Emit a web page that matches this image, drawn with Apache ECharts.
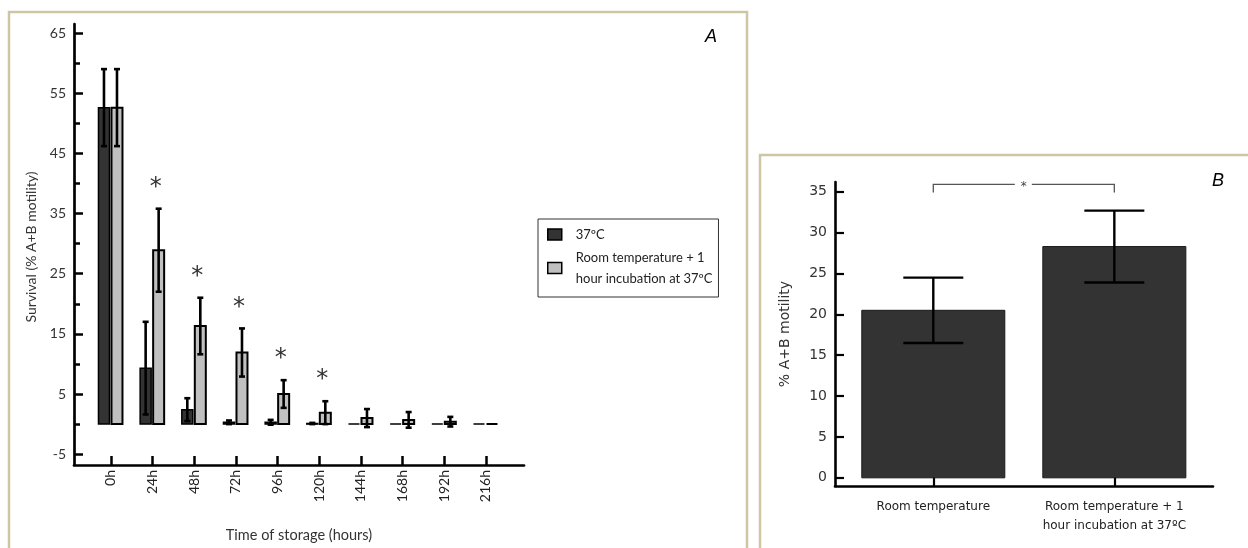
<!DOCTYPE html>
<html>
<head>
<meta charset="utf-8">
<script src="https://cdn.jsdelivr.net/npm/echarts@6/dist/echarts.min.js"></script>
<style>
html,body{margin:0;padding:0;background:#fff;}
#chart{width:1248px;height:548px;}
</style>
</head>
<body>
<div id="chart"></div>
<script>
// ---------- Panel A data ----------
const hours = [0, 24, 48, 72, 96, 120, 144, 168, 192, 216];
const hourLabels = ['0h', '24h', '48h', '72h', '96h', '120h', '144h', '168h', '192h', '216h'];
const mean37 = [52.6, 9.3, 2.4, 0.3, 0.3, 0.1, 0, 0, 0, 0];
const sd37 = [6.4, 7.7, 1.9, 0.3, 0.4, 0.1, 0, 0, 0, 0];
const meanRT = [52.6, 28.9, 16.3, 11.9, 5.0, 1.9, 1.0, 0.7, 0.4, 0];
const sdRT = [6.4, 6.9, 4.7, 4.0, 2.3, 1.9, 1.5, 1.3, 0.8, 0];
const sigA = [0, 1, 1, 1, 1, 1, 0, 0, 0, 0];
const yTicksA = [-5, 5, 15, 25, 35, 45, 55, 65];
const yMinorA = [0, 10, 20, 30, 40, 50, 60];
const seriesNamesA = ['37ºC', 'Room temperature + 1\nhour incubation at 37ºC'];

// ---------- Panel B data ----------
const categoriesB = ['Room temperature', 'Room temperature + 1\nhour incubation at 37ºC'];
const meanB = [20.5, 28.3];
const sdB = [4.0, 4.4];
const yTicksB = [0, 5, 10, 15, 20, 25, 30, 35];
const sigB = [0, 1, 35.9]; // bracket from category 0 to 1 at this level

const chart = echarts.init(document.getElementById('chart'), null, {renderer: 'canvas'});

const fontA = 'Lato, "Open Sans", sans-serif';
const fontB = '"DejaVu Sans", Verdana, sans-serif';
const tan = '#cdc6a5';

function barRenderer(offset, fill, strokeW) {
  return function (params, api) {
    const x = api.value(0), m = api.value(1), s = api.value(2);
    const base = api.coord([x, 0]);
    const top = api.coord([x, m]);
    const cx = base[0] + offset;
    const w = 11;
    const children = [{
      type: 'rect',
      shape: {x: cx - w / 2, y: top[1], width: w, height: base[1] - top[1]},
      style: {fill: fill, stroke: '#000', lineWidth: strokeW}
    }];
    if (s > 0) {
      const hi = api.coord([x, m + s])[1];
      const lo = api.coord([x, m - s])[1];
      children.push(
        {type: 'line', shape: {x1: cx, y1: hi, x2: cx, y2: lo}, style: {stroke: '#000', lineWidth: 2.6}},
        {type: 'line', shape: {x1: cx - 3, y1: hi, x2: cx + 3, y2: hi}, style: {stroke: '#000', lineWidth: 2.6}},
        {type: 'line', shape: {x1: cx - 3, y1: lo, x2: cx + 3, y2: lo}, style: {stroke: '#000', lineWidth: 2.6}}
      );
    }
    return {type: 'group', children: children};
  };
}

const data37 = hours.map((h, i) => [h, mean37[i], sd37[i]]);
const dataRT = hours.map((h, i) => [h, meanRT[i], sdRT[i]]);
const dataSigA = hours.map((h, i) => [h, meanRT[i] + sdRT[i], sigA[i]]).filter(d => d[2]);
const dataB = categoriesB.map((c, i) => [i, meanB[i], sdB[i]]);

const option = {
  backgroundColor: '#fff',
  animation: false,
  grid: [
    {left: 74, top: 24, width: 450, height: 441},
    {left: 835, top: 182, width: 378, height: 304}
  ],
  legend: {
    data: [
      {name: seriesNamesA[0], itemStyle: {color: '#333333', borderColor: '#000', borderWidth: 1.5}},
      {name: seriesNamesA[1], itemStyle: {color: '#c0c0c0', borderColor: '#000', borderWidth: 1.5}}
    ],
    orient: 'vertical',
    left: 538,
    top: 219,
    padding: [5, 6, 8, 9],
    itemGap: 2,
    itemWidth: 14,
    itemHeight: 11,
    icon: 'rect',
    borderColor: '#333',
    borderWidth: 1,
    textStyle: {fontFamily: fontA, fontSize: 13, color: '#222', lineHeight: 21, padding: [0, 0, 0, 9]}
  },
  xAxis: [
    {
      gridIndex: 0, type: 'value', min: -21.3, max: 237.9,
      axisLine: {show: true, onZero: false, lineStyle: {color: '#000', width: 2.7}},
      axisTick: {show: true, inside: true, length: 9, customValues: hours, lineStyle: {color: '#000', width: 2.5}},
      axisLabel: {
        show: true, customValues: hours, rotate: 90, margin: 5,
        fontFamily: fontA, fontSize: 14, color: '#222',
        formatter: v => hourLabels[hours.indexOf(v)]
      },
      splitLine: {show: false}
    },
    {
      gridIndex: 1, type: 'value', min: -0.543, max: 1.545,
      axisLine: {show: true, onZero: false, lineStyle: {color: '#000', width: 2.6}},
      axisTick: {show: true, inside: true, length: 9, customValues: [0, 1], lineStyle: {color: '#000', width: 2.2}},
      axisLabel: {
        show: true, customValues: [0, 1], margin: 11,
        fontFamily: fontB, fontSize: 12, color: '#222', lineHeight: 19,
        formatter: v => categoriesB[Math.round(v)]
      },
      splitLine: {show: false}
    }
  ],
  yAxis: [
    {
      gridIndex: 0, type: 'value', min: -6.8, max: 66.5, position: 'left',
      axisLine: {show: true, onZero: false, lineStyle: {color: '#000', width: 2.7}},
      axisTick: {show: true, inside: true, length: 9, customValues: yTicksA, lineStyle: {color: '#000', width: 2.5}},
      axisLabel: {show: true, customValues: yTicksA, margin: 8, fontFamily: fontA, fontSize: 14, color: '#333'},
      splitLine: {show: false}
    },
    {
      gridIndex: 0, type: 'value', min: -6.8, max: 66.5, position: 'left',
      axisLine: {show: false, onZero: false},
      axisTick: {show: true, inside: true, length: 6, customValues: yMinorA, lineStyle: {color: '#000', width: 2.5}},
      axisLabel: {show: false},
      splitLine: {show: false}
    },
    {
      gridIndex: 1, type: 'value', min: -1, max: 36.2, position: 'left',
      axisLine: {show: true, onZero: false, lineStyle: {color: '#000', width: 2.6}},
      axisTick: {show: true, inside: true, length: 9, customValues: yTicksB, lineStyle: {color: '#000', width: 2.2}},
      axisLabel: {show: true, customValues: yTicksB, margin: 8, fontFamily: fontB, fontSize: 14, color: '#333'},
      splitLine: {show: false}
    }
  ],
  series: [
    {
      name: seriesNamesA[0], type: 'custom', xAxisIndex: 0, yAxisIndex: 0,
      itemStyle: {color: '#333333'},
      encode: {x: 0, y: 1}, clip: false,
      renderItem: barRenderer(-7, '#333333', 1.5),
      data: data37
    },
    {
      name: seriesNamesA[1], type: 'custom', xAxisIndex: 0, yAxisIndex: 0,
      itemStyle: {color: '#c0c0c0'},
      encode: {x: 0, y: 1}, clip: false,
      renderItem: barRenderer(6, '#c0c0c0', 2),
      data: dataRT
    },
    {
      name: 'sigA', type: 'custom', xAxisIndex: 0, yAxisIndex: 0,
      encode: {x: 0, y: 1}, clip: false, silent: true,
      renderItem: function (params, api) {
        const p = api.coord([api.value(0), api.value(1)]);
        return {
          type: 'text',
          style: {
            text: '*', x: p[0] + 3, y: p[1] - 21, align: 'center', verticalAlign: 'middle',
            font: '24px ' + fontB, fill: '#333'
          }
        };
      },
      data: dataSigA
    },
    {
      name: 'barsB', type: 'custom', xAxisIndex: 1, yAxisIndex: 2,
      encode: {x: 0, y: 1}, clip: false,
      renderItem: function (params, api) {
        const x = api.value(0), m = api.value(1), s = api.value(2);
        const base = api.coord([x, 0]);
        const top = api.coord([x, m]);
        const w = api.size([0.79, 0])[0];
        const hi = api.coord([x, m + s])[1];
        const lo = api.coord([x, m - s])[1];
        const cx = base[0];
        return {
          type: 'group',
          children: [
            {type: 'rect', shape: {x: cx - w / 2, y: top[1], width: w, height: base[1] - top[1]},
             style: {fill: '#333333', stroke: '#1a1a1a', lineWidth: 1}},
            {type: 'line', shape: {x1: cx, y1: hi, x2: cx, y2: lo}, style: {stroke: '#000', lineWidth: 2.4}},
            {type: 'line', shape: {x1: cx - 30, y1: hi, x2: cx + 30, y2: hi}, style: {stroke: '#000', lineWidth: 2.4}},
            {type: 'line', shape: {x1: cx - 30, y1: lo, x2: cx + 30, y2: lo}, style: {stroke: '#000', lineWidth: 2.4}}
          ]
        };
      },
      data: dataB
    },
    {
      name: 'sigB', type: 'custom', xAxisIndex: 1, yAxisIndex: 2,
      encode: {x: [0, 1], y: 2}, clip: false, silent: true,
      renderItem: function (params, api) {
        const a = api.value(0), b = api.value(1), yv = api.value(2);
        const p0 = api.coord([a, yv]);
        const p1 = api.coord([b, yv]);
        const drop = api.coord([a, yv - 1])[1];
        const mid = (p0[0] + p1[0]) / 2;
        const st = {stroke: '#555', lineWidth: 1.3};
        return {
          type: 'group',
          children: [
            {type: 'polyline', shape: {points: [[p0[0], drop], [p0[0], p0[1]], [mid - 9, p0[1]]]}, style: Object.assign({fill: null}, st)},
            {type: 'polyline', shape: {points: [[mid + 8, p1[1]], [p1[0], p1[1]], [p1[0], drop]]}, style: Object.assign({fill: null}, st)},
            {type: 'text', style: {text: '*', x: mid, y: p0[1] + 2, align: 'center', verticalAlign: 'middle', font: '12px ' + fontB, fill: '#444'}}
          ]
        };
      },
      data: [sigB]
    }
  ],
  graphic: [
    {type: 'rect', z: -10, shape: {x: 9, y: 12, width: 738, height: 600}, style: {fill: 'none', stroke: tan, lineWidth: 2.5}},
    {type: 'rect', z: -10, shape: {x: 760, y: 155, width: 520, height: 450}, style: {fill: 'none', stroke: tan, lineWidth: 2.5}},
    {type: 'text', x: 711, y: 37, style: {text: 'A', font: 'italic 18px "Liberation Sans", Arial, sans-serif', fill: '#000', align: 'center', verticalAlign: 'middle'}},
    {type: 'text', x: 1218, y: 181, style: {text: 'B', font: 'italic 18px "Liberation Sans", Arial, sans-serif', fill: '#000', align: 'center', verticalAlign: 'middle'}},
    {type: 'text', x: 299, y: 535, style: {text: 'Time of storage (hours)', font: '14.5px ' + fontA, fill: '#333', align: 'center', verticalAlign: 'middle'}},
    {type: 'text', x: 31, y: 247, rotation: Math.PI / 2, style: {text: 'Survival (% A+B motility)', font: '14px ' + fontA, fill: '#333', align: 'center', verticalAlign: 'middle'}},
    {type: 'text', x: 785, y: 334, rotation: Math.PI / 2, style: {text: '% A+B motility', font: '14px ' + fontB, fill: '#333', align: 'center', verticalAlign: 'middle'}}
  ]
};
chart.setOption(option);
</script>
</body>
</html>
